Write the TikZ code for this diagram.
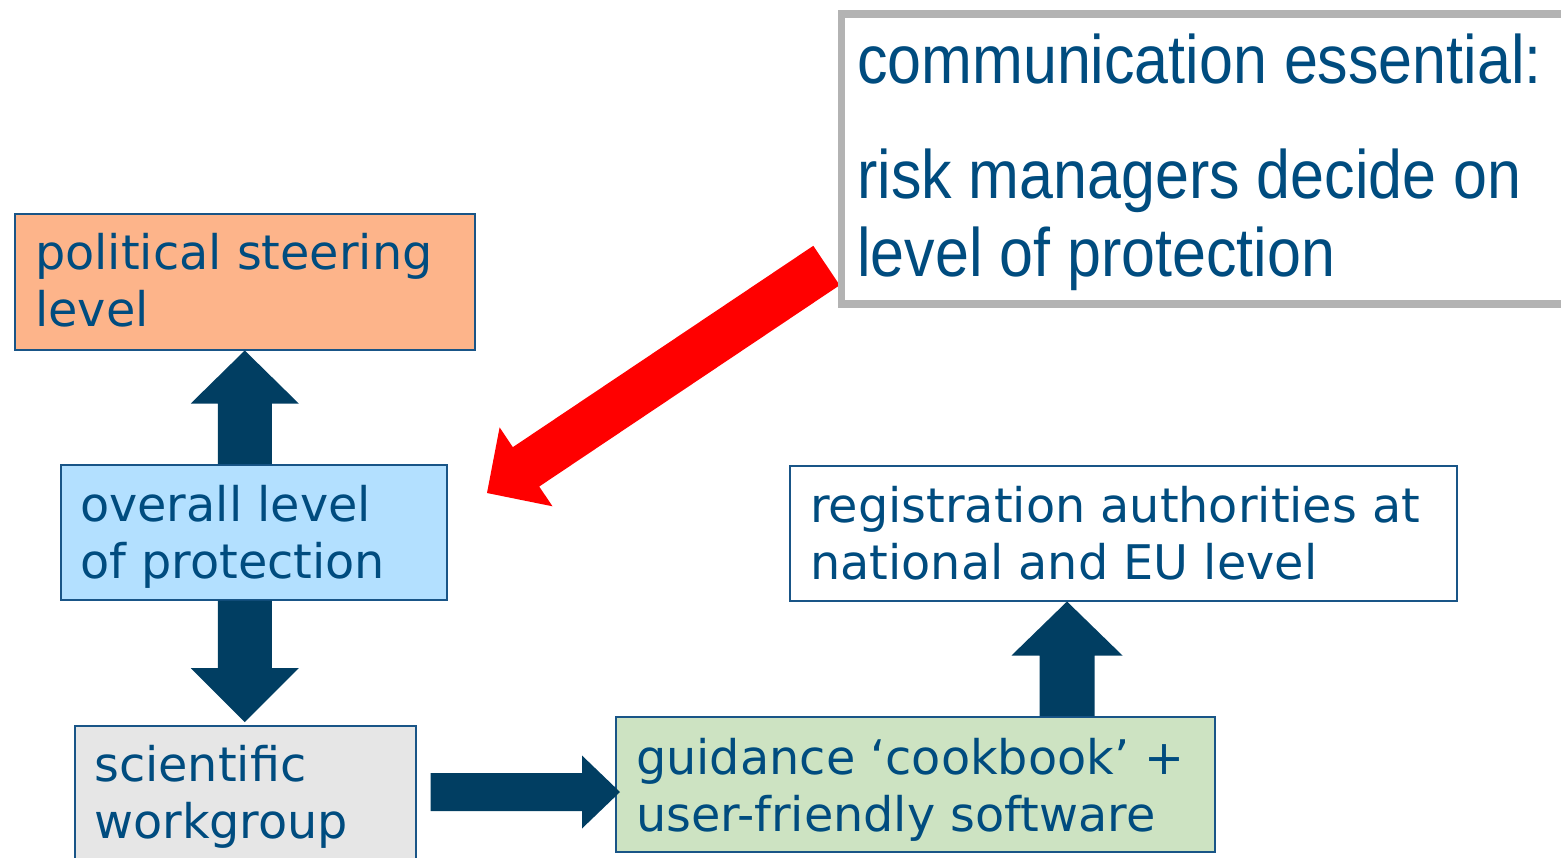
\documentclass[tikz,border=0pt]{standalone}
\usepackage{fontspec}
\setmainfont{DejaVu Sans}
\newfontfamily\calloutfont[FakeStretch=0.89]{Liberation Sans}
\usetikzlibrary{calc}

\definecolor{txtblue}{RGB}{0,76,127}
\definecolor{boxline}{RGB}{25,85,135}
\definecolor{arrowblue}{RGB}{1,62,98}
\definecolor{polfill}{RGB}{253,180,138}
\definecolor{ovfill}{RGB}{179,224,255}
\definecolor{scifill}{RGB}{230,230,230}
\definecolor{gdfill}{RGB}{205,227,194}
\definecolor{calgray}{RGB}{179,179,179}
\definecolor{alertred}{RGB}{255,0,0}

% block arrow from #1 (tail centre) to #2 (tip):
% #3 shaft half width, #4 head half width, #5 head length, #6 fill colour
\newcommand{\blockarrow}[6]{%
  \fill[#6]
    ($(#1)!#3!90:(#2)$) --
    ($(#2)!#5!(#1)!#3!-90:(#1)$) --
    ($(#2)!#5!(#1)!#4!-90:(#1)$) --
    (#2) --
    ($(#2)!#5!(#1)!#4!90:(#1)$) --
    ($(#2)!#5!(#1)!#3!90:(#1)$) --
    ($(#1)!#3!-90:(#2)$) -- cycle;}

\tikzset{
  box/.style={draw=boxline, line width=1.5pt, anchor=north west, inner sep=0pt},
  boxtext/.style={anchor=north west, inner sep=0pt, align=left, text=txtblue,
    font=\fontsize{47.7}{57}\selectfont},
}

\begin{document}
\begin{tikzpicture}[x=1pt,y=-1pt]
\useasboundingbox (0,0) rectangle (1561,857);

% boxes
\node[box, fill=polfill, minimum width=460pt, minimum height=136pt] (pol) at (14,213) {};
\node[box, fill=ovfill, minimum width=386pt, minimum height=135pt] (ov) at (60,464) {};
\node[box, fill=scifill, minimum width=341pt, minimum height=160pt] (sci) at (74,725) {};
\node[box, fill=gdfill, minimum width=599pt, minimum height=135pt] (gd) at (615,716) {};
\node[box, fill=white, minimum width=667pt, minimum height=135pt] (reg) at (789,465) {};

% box texts
\node[boxtext] (polt) at ($(pol.north west)+(21,20)$) {political steering\\level};
\node[boxtext] (ovt) at ($(ov.north west)+(20,21)$) {overall level\\of protection};
\node[boxtext] (scit) at ($(sci.north west)+(20,20)$) {scientific\\workgroup};
\node[boxtext] (gdt) at ($(gd.north west)+(21,22)$) {guidance `cookbook' +\\user-friendly software};
\node[boxtext] (regt) at ($(reg.north west)+(21,21)$) {registration authorities at\\national and EU level};

% arrow end points
\coordinate (a1) at (pol.south |- ov.north);
\coordinate (a1tip) at (pol.south);
\coordinate (a2) at (pol.south |- ov.south);
\coordinate (a2tip) at ($(pol.south |- sci.north)+(0,-3)$);
\coordinate (a3) at ($(sci.east)+(14,0)$);
\coordinate (a3) at (a3 |- 0,792);
\coordinate (a3tip) at ($(gd.west |- a3)+(5,0)$);
\coordinate (a4) at (1067,0 |- gd.north);
\coordinate (a4tip) at (1067,0 |- reg.south);
\coordinate (a5) at (826.5,265.5);
\coordinate (a5tip) at (487,493);

% block arrows
\blockarrow{a1}{a1tip}{27pt}{54pt}{53pt}{arrowblue}
\blockarrow{a2}{a2tip}{27pt}{54pt}{54pt}{arrowblue}
\blockarrow{a3}{a3tip}{19pt}{36.5pt}{38pt}{arrowblue}
\blockarrow{a4}{a4tip}{27.5pt}{55.5pt}{54pt}{arrowblue}
\blockarrow{a5}{a5tip}{23.7pt}{47.5pt}{47pt}{alertred}

% callout
\node[draw=calgray, line width=7.5pt, fill=white, anchor=north west, inner sep=0pt,
  minimum width=760pt, minimum height=290pt] (call) at (837.5,10) {};
\node[boxtext, font=\calloutfont\fontsize{68.5}{78}\selectfont] (callt) at (857,34)
  {communication essential:\\[37pt]risk managers decide on\\level of protection};
\end{tikzpicture}
\end{document}
